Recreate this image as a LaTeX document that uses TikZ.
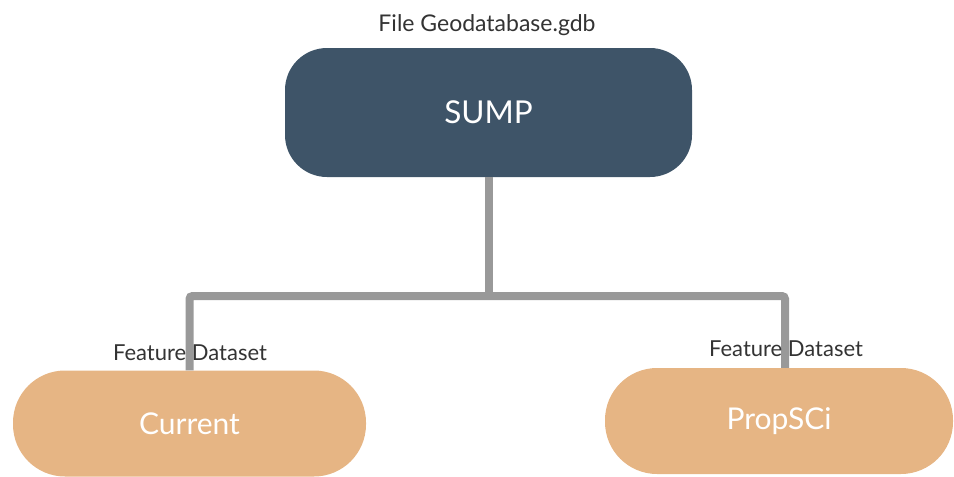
\documentclass[tikz,border=0pt]{standalone}
\usepackage{fontspec}
\setmainfont{Lato}
\definecolor{navy}{HTML}{3E5468}
\definecolor{sand}{HTML}{E6B584}
\definecolor{conngray}{HTML}{999999}
\definecolor{labelgray}{HTML}{333333}
\begin{document}
\begin{tikzpicture}[x=1pt,y=-1pt,
  topbox/.style={fill=navy,rounded corners=42pt,minimum width=407pt,minimum height=129pt,inner sep=0pt,text=white,font=\fontsize{31.5}{34}\selectfont},
  leafbox/.style={fill=sand,rounded corners=52pt,minimum width=353pt,minimum height=106pt,inner sep=0pt,text=white,font=\fontsize{30}{32}\selectfont},
  conn/.style={draw=conngray,line width=8pt},
  lbl/.style={text=labelgray,inner sep=0pt,font=\fontsize{22}{24}\selectfont}]
\useasboundingbox (0,0) rectangle (954,477);
\node[topbox] (sump) at (488.5,112.5) {SUMP};
\node[leafbox] (cur) at (189.5,423.5) {Current};
\node[leafbox,minimum width=348pt] (prop) at (779,421) {PropSCi};
\coordinate (mid) at (sump.south |- 0,296);
\coordinate (pr) at ([xshift=6pt]prop.north);
\draw[conn] (sump.south) -- (mid);
\draw[conn,rounded corners=3pt] (cur.north) |- (mid) -| (pr);
\node[lbl,font=\fontsize{23}{25}\selectfont] (t1) at (487,25) {File Geodatabase.gdb};
\node[lbl] (t2) at (190,353) {Feature Dataset};
\node[lbl] (t3) at (786,349) {Feature Dataset};
\end{tikzpicture}
\end{document}
